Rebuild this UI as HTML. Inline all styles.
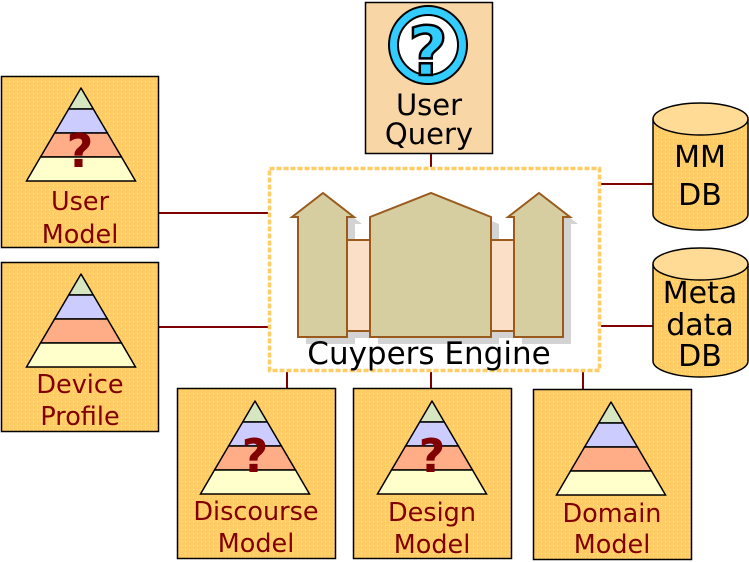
<!DOCTYPE html>
<html><head><meta charset="utf-8"><style>
html,body{margin:0;padding:0;background:#fff;}
svg{display:block;}
text{font-family:"DejaVu Sans","Liberation Sans",sans-serif;}
</style></head><body>
<svg width="749" height="562" viewBox="0 0 749 562" xmlns="http://www.w3.org/2000/svg">
<defs>
<pattern id="dots" width="4" height="4" patternUnits="userSpaceOnUse">
<rect width="4" height="4" fill="#ffcc66"/><rect x="1" y="1" width="1" height="1" fill="#ffee88"/>
</pattern>
<g id="pyr">
<polygon points="0,0 12.3,21 -12.3,21" fill="#d6e6c0" stroke="#000" stroke-width="1.5" stroke-linejoin="round"/>
<polygon points="-12.3,21 12.3,21 26.4,45 -26.4,45" fill="#ccccff" stroke="#000" stroke-width="1.5"/>
<polygon points="-26.4,45 26.4,45 40.5,69 -40.5,69" fill="#ffad86" stroke="#000" stroke-width="1.5"/>
<polygon points="-40.5,69 40.5,69 54.5,93 -54.5,93" fill="#ffffcc" stroke="#000" stroke-width="1.5"/>
</g>
</defs>

<!-- connectors -->
<g stroke="#800000" stroke-width="2">
<line x1="431" y1="154" x2="431" y2="167"/>
<line x1="159" y1="213" x2="268" y2="213"/>
<line x1="159" y1="327" x2="268" y2="327"/>
<line x1="601" y1="184" x2="653" y2="184"/>
<line x1="601" y1="326" x2="653" y2="326"/>
<line x1="287" y1="372" x2="287" y2="388"/>
<line x1="431" y1="372" x2="431" y2="388"/>
<line x1="583" y1="372" x2="583" y2="389"/>
</g>

<!-- User Query -->
<rect x="365.5" y="2.5" width="127" height="151" fill="#f8d6a6" stroke="#000" stroke-width="1.5"/>
<circle cx="428" cy="45" r="34.5" fill="#fff" stroke="#000" stroke-width="11"/>
<circle cx="428" cy="45" r="34.5" fill="none" stroke="#33ccff" stroke-width="7"/>
<text x="428" y="75" font-size="68" font-weight="bold" text-anchor="middle" fill="#33ccff" stroke="#000" stroke-width="2.5">?</text>
<text x="429" y="115" font-size="29" text-anchor="middle" fill="#000">User</text>
<text x="429" y="144" font-size="29" text-anchor="middle" fill="#000">Query</text>

<!-- Engine -->
<rect x="269.5" y="168.5" width="330" height="202" fill="#fff" stroke="#ffcc66" stroke-width="3.5" stroke-dasharray="5 2"/>
<g fill="#d3d3d3" transform="translate(8,7)">
<rect x="347" y="240" width="23" height="91"/>
<rect x="491" y="240" width="23" height="91"/>
<path d="M298,337 V217 H292 L323,193 L354,217 H347 V337 Z"/>
<path d="M370,337 V217 L431,193 L491,217 V337 Z"/>
<path d="M514,337 V217 H508 L539,193 L570,217 H563 V337 Z"/>
</g>
<g stroke="#9a5a1e" stroke-width="2" stroke-linejoin="miter">
<rect x="347" y="240" width="23" height="91" fill="#fbdfc6"/>
<rect x="491" y="240" width="23" height="91" fill="#fbdfc6"/>
<path d="M298,337 V217 H292 L323,193 L354,217 H347 V337 Z" fill="#d6cea0"/>
<path d="M370,337 V217 L431,193 L491,217 V337 Z" fill="#d6cea0"/>
<path d="M514,337 V217 H508 L539,193 L570,217 H563 V337 Z" fill="#d6cea0"/>
</g>
<text x="429" y="364" font-size="31" text-anchor="middle" fill="#000">Cuypers Engine</text>

<!-- DBs -->
<g stroke="#000" stroke-width="1.5">
<path d="M653,119 V214 A47.5,16 0 0 0 748,214 V119" fill="url(#dots)"/>
<ellipse cx="700.5" cy="119" rx="47.5" ry="16" fill="#ffdb96"/>
<path d="M653,264 V361 A47.5,16 0 0 0 748,361 V264" fill="url(#dots)"/>
<ellipse cx="700.5" cy="264" rx="47.5" ry="16" fill="#ffdb96"/>
</g>
<g font-size="30" text-anchor="middle" fill="#000">
<text x="700" y="167">MM</text>
<text x="700" y="205">DB</text>
<text x="700" y="303">Meta</text>
<text x="700" y="335">data</text>
<text x="700" y="366">DB</text>
</g>

<!-- Model boxes -->
<g stroke="#000" stroke-width="1.5" fill="url(#dots)">
<rect x="1.5" y="76.5" width="157" height="171"/>
<rect x="1.5" y="262.5" width="157" height="169"/>
<rect x="177.5" y="388.5" width="158" height="170"/>
<rect x="353.5" y="388.5" width="158" height="170"/>
<rect x="533.5" y="389.5" width="158" height="170"/>
</g>
<use href="#pyr" x="81" y="88"/>
<use href="#pyr" x="81" y="274"/>
<use href="#pyr" x="255" y="401"/>
<use href="#pyr" x="432" y="401"/>
<use href="#pyr" x="611" y="402"/>

<g font-size="46" font-weight="bold" text-anchor="middle" fill="#800000">
<text x="80" y="167">?</text>
<text x="255" y="472">?</text>
<text x="432" y="472">?</text>
</g>

<g font-size="25.5" text-anchor="middle" fill="#800000">
<text x="80" y="210">User</text>
<text x="80" y="243">Model</text>
<text x="80" y="393">Device</text>
<text x="80" y="425">Profile</text>
<text x="256" y="520">Discourse</text>
<text x="256" y="552">Model</text>
<text x="432" y="521">Design</text>
<text x="432" y="553">Model</text>
<text x="612" y="522">Domain</text>
<text x="612" y="553">Model</text>
</g>
</svg>
</body></html>
